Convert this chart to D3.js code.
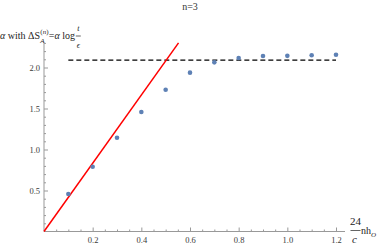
<!DOCTYPE html>
<html><head><meta charset="utf-8">
<script src="https://cdn.jsdelivr.net/npm/d3@7"></script>
<style>
html,body{margin:0;padding:0;background:#fff;}
svg text{font-family:"Liberation Serif","Times New Roman",Times,serif !important;}
</style></head>
<body>
<svg id="chart" width="382" height="246"></svg>
<script>
const xValues = [0.1,0.2,0.3,0.4,0.5,0.6,0.7,0.8,0.9,1.0,1.1,1.2];
const yValues = [0.457,0.790,1.144,1.457,1.729,1.937,2.063,2.116,2.140,2.142,2.150,2.156];
const dashedLevel = 2.09;
const dashedRange = [0.1, 1.2];
const redSlope = 4.16;
const xTicks = [0.2,0.4,0.6,0.8,1.0,1.2];
const yTicks = [0.5,1.0,1.5,2.0];

const svg = d3.select("#chart");
const x = d3.scaleLinear().domain([0,1.2]).range([44,336]);
const y = d3.scaleLinear().domain([0,2.0]).range([231.5,67.5]);
const xMax = 1.237, yMax = 2.3;
const axisColor = "#999";
const labelColor = "#3a3a3a";
const txt = "#222";

const xMinor = d3.range(0.05, 1.2001, 0.05).filter(v => Math.abs(v/0.2 - Math.round(v/0.2)) > 1e-6);
const yMinor = d3.range(0.1, 2.3001, 0.1).filter(v => Math.abs(v/0.5 - Math.round(v/0.5)) > 1e-6);

const gx = svg.append("g").attr("transform", `translate(0,${y(0)})`);
gx.call(d3.axisBottom(x).tickValues(xMinor).tickSize(-2).tickFormat(""));
gx.call(g => g.selectAll("path").remove());
const gx2 = svg.append("g").attr("transform", `translate(0,${y(0)})`);
gx2.call(d3.axisBottom(x).tickValues(xTicks).tickSize(-4).tickPadding(5).tickFormat(d3.format(".1f")));
gx2.call(g => g.selectAll("path").remove());

const gy = svg.append("g").attr("transform", `translate(${x(0)},0)`);
gy.call(d3.axisLeft(y).tickValues(yMinor).tickSize(-2).tickFormat(""));
gy.call(g => g.selectAll("path").remove());
const gy2 = svg.append("g").attr("transform", `translate(${x(0)},0)`);
gy2.call(d3.axisLeft(y).tickValues(yTicks).tickSize(-4).tickPadding(4).tickFormat(d3.format(".1f")));
gy2.call(g => g.selectAll("path").remove());

svg.selectAll("g").attr("font-family", null);
svg.selectAll(".tick line").attr("stroke", axisColor);
svg.selectAll(".tick text").attr("fill", labelColor).attr("font-size", 8.5);

svg.append("line").attr("x1", x(0)).attr("x2", x(xMax)).attr("y1", y(0)).attr("y2", y(0))
   .attr("stroke", axisColor).attr("stroke-width", 1);
svg.append("line").attr("x1", x(0)).attr("x2", x(0)).attr("y1", y(0)).attr("y2", y(yMax))
   .attr("stroke", axisColor).attr("stroke-width", 1);

svg.append("line")
   .attr("x1", x(dashedRange[0])).attr("x2", x(dashedRange[1]))
   .attr("y1", y(dashedLevel)).attr("y2", y(dashedLevel))
   .attr("stroke", "#000").attr("stroke-width", 1.4).attr("stroke-dasharray", "5,3");

const redEnd = yMax / redSlope;
svg.append("line")
   .attr("x1", x(0)).attr("y1", y(0))
   .attr("x2", x(redEnd)).attr("y2", y(redSlope*redEnd))
   .attr("stroke", "#ff0000").attr("stroke-width", 1.5);

svg.append("g").selectAll("circle").data(xValues.map((v,i)=>[v,yValues[i]]))
   .join("circle").attr("cx", d=>x(d[0])).attr("cy", d=>y(d[1])).attr("r", 2.3)
   .attr("fill", "#5e81b5");

// title
svg.append("text").attr("x", 190).attr("y", 10).attr("text-anchor","middle")
   .attr("font-size", 10).attr("fill", "#333").text("n=3");

// y label (measured flow)
const fs = 10, fsSmall = 7;
let cx = 0;
const t1 = svg.append("text").attr("x", cx).attr("y", 39).attr("font-size", fs).attr("fill", txt);
t1.append("tspan").attr("font-style","italic").text("α");
t1.append("tspan").text(" with ΔS");
cx += t1.node().getComputedTextLength() + 0.3;
const sup = svg.append("text").attr("x", cx).attr("y", 33.5).attr("font-size", fsSmall).attr("fill", txt);
sup.append("tspan").text("(");
sup.append("tspan").attr("font-style","italic").text("n");
sup.append("tspan").text(")");
const sub = svg.append("text").attr("x", cx).attr("y", 42.5).attr("font-size", fsSmall)
   .attr("font-style","italic").attr("fill", txt).text("A");
cx += Math.max(sup.node().getComputedTextLength(), sub.node().getComputedTextLength()) + 0.3;
const t2 = svg.append("text").attr("x", cx).attr("y", 39).attr("font-size", fs).attr("fill", txt);
t2.append("tspan").text("=");
t2.append("tspan").attr("font-style","italic").text("α");
t2.append("tspan").text(" log");
cx += t2.node().getComputedTextLength() + 0.8;
svg.append("line").attr("x1", cx).attr("x2", cx+5).attr("y1", 36).attr("y2", 36)
   .attr("stroke", txt).attr("stroke-width",0.7);
svg.append("text").attr("x", cx+2.5).attr("y", 31).attr("text-anchor","middle").attr("font-size", 8)
   .attr("font-style","italic").attr("fill", txt).text("t");
svg.append("text").attr("x", cx+2.5).attr("y", 47.5).attr("text-anchor","middle").attr("font-size", 8)
   .attr("font-style","italic").attr("fill", txt).text("ϵ");

// x label
svg.append("text").attr("x", 355.5).attr("y", 224.5).attr("text-anchor","middle").attr("font-size", 11)
   .attr("fill", txt).text("24");
svg.append("line").attr("x1", 350.5).attr("x2", 360.5).attr("y1", 230.5).attr("y2", 230.5)
   .attr("stroke", txt).attr("stroke-width",0.7);
svg.append("text").attr("x", 354.5).attr("y", 243).attr("text-anchor","middle").attr("font-size", 11)
   .attr("font-style","italic").attr("fill", txt).text("c");
const nh = svg.append("text").attr("x", 361).attr("y", 234).attr("font-size", 10).attr("fill", txt).text("nh");
const nhw = nh.node().getComputedTextLength();
svg.append("text").attr("x", 361 + nhw).attr("y", 236.5).attr("font-size", 7).attr("font-style","italic")
   .attr("fill", txt).text("O");
</script>
</body></html>
